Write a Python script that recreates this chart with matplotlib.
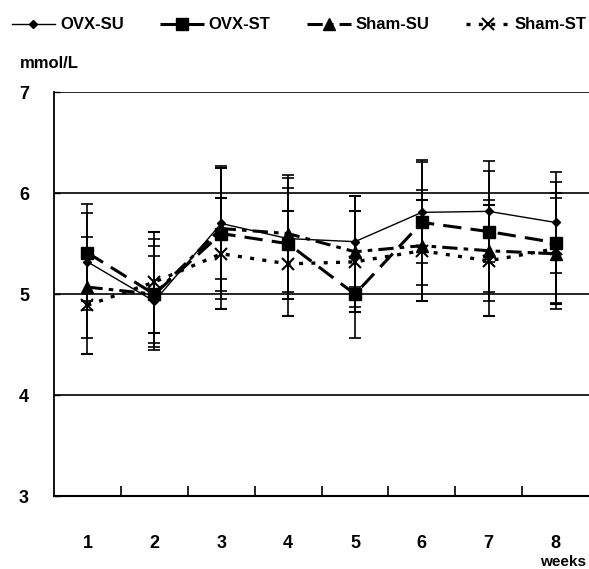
import matplotlib
matplotlib.use("Agg")
import matplotlib.pyplot as plt
from matplotlib.lines import Line2D

plt.rcParams["font.family"] = ["Liberation Sans Narrow", "Liberation Sans", "DejaVu Sans"]
plt.rcParams["font.weight"] = "bold"

weeks = [1, 2, 3, 4, 5, 6, 7, 8]
week_labels = ["1", "2", "3", "4", "5", "6", "7", "8"]

ovx_su = [5.32, 4.93, 5.70, 5.55, 5.52, 5.81, 5.82, 5.71]
ovx_st = [5.41, 5.00, 5.60, 5.50, 5.00, 5.71, 5.62, 5.51]
sham_su = [5.07, 5.00, 5.65, 5.60, 5.42, 5.48, 5.43, 5.40]
sham_st = [4.89, 5.12, 5.40, 5.30, 5.32, 5.43, 5.33, 5.45]

ovx_su_sd = [0.48, 0.45, 0.55, 0.60, 0.45, 0.50, 0.50, 0.50]
ovx_st_sd = [0.48, 0.48, 0.65, 0.55, 0.43, 0.62, 0.60, 0.60]
sham_su_sd = [0.50, 0.55, 0.62, 0.58, 0.55, 0.55, 0.50, 0.55]
sham_st_sd = [0.48, 0.50, 0.55, 0.52, 0.50, 0.50, 0.55, 0.55]

series = [
    ("OVX-SU", ovx_su, ovx_su_sd, dict(linestyle="-", linewidth=1.0, marker="D", markersize=4)),
    ("OVX-ST", ovx_st, ovx_st_sd, dict(linestyle=(0, (6, 3)), linewidth=2.2, marker="s", markersize=9)),
    ("Sham-SU", sham_su, sham_su_sd, dict(linestyle=(0, (5, 2, 1.5, 2)), linewidth=2.2, marker="^", markersize=8)),
    ("Sham-ST", sham_st, sham_st_sd, dict(linestyle=(0, (1.2, 2.5)), linewidth=2.4, marker="x", markersize=8, markeredgewidth=1.5)),
]

fig = plt.figure(figsize=(5.89, 5.69), dpi=100)
ax = fig.add_axes([0.0917, 0.128, 0.9083, 0.710])

for name, vals, sd, style in series:
    ax.errorbar(weeks, vals, yerr=sd, color="black", ecolor="black",
                elinewidth=1.2, capsize=4, capthick=1.2, label=name, **style)

ax.set_xlim(0.5, 8.5)
ax.set_ylim(3, 7)
ax.set_yticks([3, 4, 5, 6, 7])
for y in [4, 5, 6, 7]:
    ax.axhline(y, color="black", linewidth=1.2, zorder=0)

ax.set_xticks(weeks)
ax.set_xticklabels(week_labels, fontsize=13)
ax.tick_params(axis="x", which="major", length=0, pad=28)
ax.set_xticks([1.5, 2.5, 3.5, 4.5, 5.5, 6.5, 7.5], minor=True)
ax.tick_params(axis="x", which="minor", direction="in", length=7, width=1.2)
ax.tick_params(axis="y", direction="in", length=4, width=1, labelsize=13, pad=18)

ax.spines["right"].set_visible(False)
ax.spines["top"].set_visible(False)
ax.spines["left"].set_linewidth(1.3)
ax.spines["bottom"].set_linewidth(1.5)

fig.text(0.034, 0.88, "mmol/L", fontsize=12, fontweight="bold")
fig.text(0.995, 0.0, "weeks", fontsize=11, fontweight="bold", ha="right", va="bottom")

handles = []
for name, vals, sd, style in series:
    handles.append(Line2D([], [], color="black", label=name, **style))
fig.legend(handles=handles, loc="upper left", bbox_to_anchor=(0.0, 0.99), ncol=4,
           frameon=False, fontsize=12, handlelength=2.6, handletextpad=0.3,
           columnspacing=2.2, borderaxespad=0.3)

fig.savefig("out.png", dpi=100)
